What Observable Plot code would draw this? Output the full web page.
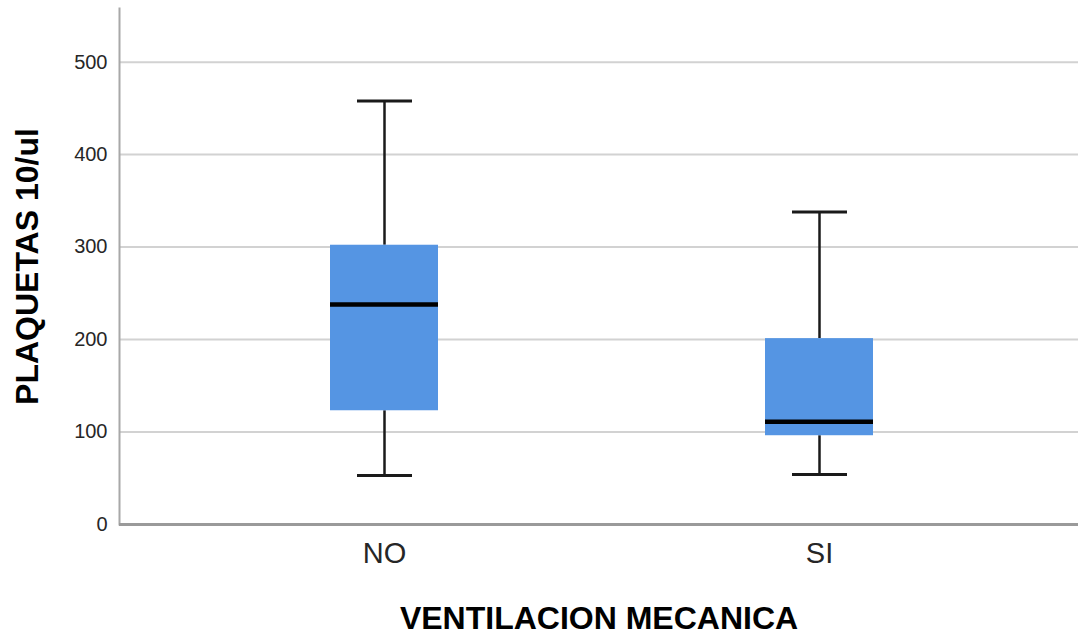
<!DOCTYPE html>
<html>
<head>
<meta charset="utf-8">
<script src="https://cdn.jsdelivr.net/npm/d3@7"></script>
<script src="https://cdn.jsdelivr.net/npm/@observablehq/plot@0.6"></script>
<style>
  html, body { margin: 0; padding: 0; background: #ffffff; }
  #chart svg { display: block; font-family: "Liberation Sans", Arial, sans-serif; color: #262626; }
</style>
</head>
<body>
<div id="chart"></div>
<script>
// Data
const categories = ["NO", "SI"];
const whiskerLow = [53, 54];
const q1 = [123, 96];
const median = [238, 111];
const q3 = [302, 201];
const whiskerHigh = [458, 338];
const yTicks = [0, 100, 200, 300, 400, 500];
const gridTicks = [100, 200, 300, 400, 500];
const xTitle = "VENTILACION MECANICA";
const yTitle = "PLAQUETAS 10/ul";

const boxes = categories.map((c, i) => ({
  group: c, low: whiskerLow[i], q1: q1[i], median: median[i], q3: q3[i], high: whiskerHigh[i]
}));

const chart = Plot.plot({
  width: 1078,
  height: 638,
  marginTop: 8,
  marginBottom: 114,
  marginLeft: 119,
  marginRight: 0,
  style: { background: "#ffffff", overflow: "visible" },
  x: { type: "band", domain: categories, paddingInner: 0.7517, paddingOuter: 0.478, align: 0.507 },
  y: { domain: [0, 558] },
  marks: [
    Plot.gridY(gridTicks, { stroke: "#d2d2d2", strokeOpacity: 1, strokeWidth: 2 }),
    Plot.ruleX(boxes, { x: "group", y1: "q3", y2: "high", stroke: "#1a1a1a", strokeWidth: 2.5 }),
    Plot.ruleX(boxes, { x: "group", y1: "low", y2: "q1", stroke: "#1a1a1a", strokeWidth: 2.5 }),
    Plot.tickY(boxes, { x: "group", y: "high", stroke: "#1a1a1a", strokeWidth: 3, insetLeft: 27, insetRight: 26 }),
    Plot.tickY(boxes, { x: "group", y: "low", stroke: "#1a1a1a", strokeWidth: 3, insetLeft: 27, insetRight: 26 }),
    Plot.barY(boxes, { x: "group", y1: "q1", y2: "q3", fill: "#5595e3" }),
    Plot.tickY(boxes, { x: "group", y: "median", stroke: "#000000", strokeWidth: 4.5 }),
    Plot.frame({ anchor: "left", stroke: "#a8a8a8", strokeWidth: 2 }),
    Plot.ruleY([0], { stroke: "#9a9a9a", strokeWidth: 3 }),
    Plot.axisY(yTicks, { tickSize: 0, tickPadding: 12, fontSize: 20, label: null, fill: "#262626" }),
    Plot.axisX({ tickSize: 0, tickPadding: 18, fontSize: 29, label: null, fill: "#262626" }),
    Plot.text([xTitle], { frameAnchor: "bottom", dy: 94, fontSize: 32, fontWeight: "bold", fill: "#000000", lineAnchor: "middle", textAnchor: "middle" }),
    Plot.text([yTitle], { frameAnchor: "left", dx: -92, rotate: -90, fontSize: 32, fontWeight: "bold", fill: "#000000", lineAnchor: "middle", textAnchor: "middle" })
  ]
});
document.getElementById("chart").appendChild(chart);
</script>
</body>
</html>
